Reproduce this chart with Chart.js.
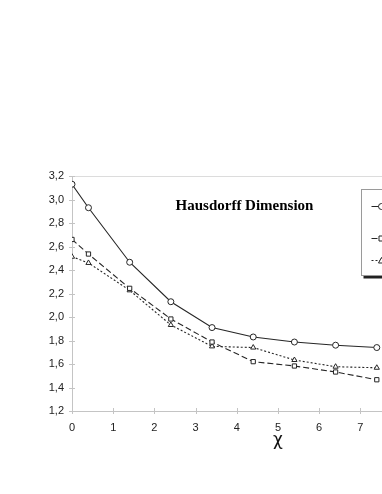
<!DOCTYPE html>
<html>
<head>
<meta charset="utf-8">
<script src="https://cdn.jsdelivr.net/npm/chart.js@4.4.1/dist/chart.umd.min.js"></script>
<style>
html,body{margin:0;padding:0;background:#fff;overflow:hidden;}
#wrap{position:absolute;left:0;top:0;width:500px;height:494px;}
</style>
</head>
<body>
<div id="wrap"><canvas id="c" width="500" height="494"></canvas></div>
<script>
// data
const chiValues = [0, 0.4, 1.4, 2.4, 3.4, 4.4, 5.4, 6.4, 7.4];
const seriesCircle = [3.13, 2.93, 2.466, 2.13, 1.91, 1.83, 1.787, 1.76, 1.74];
const seriesSquare = [2.66, 2.536, 2.244, 1.983, 1.787, 1.62, 1.583, 1.532, 1.466];
const seriesTriangle = [2.513, 2.46, 2.227, 1.932, 1.75, 1.74, 1.634, 1.577, 1.568];
const yTicks = [1.2, 1.4, 1.6, 1.8, 2.0, 2.2, 2.4, 2.6, 2.8, 3.0, 3.2];
const xTicks = [0, 1, 2, 3, 4, 5, 6, 7, 8, 9, 10];
const chartTitle = 'Hausdorff Dimension';
const xTitle = 'χ';
const seriesNames = ['', '', ''];

const toPts = (ys) => chiValues.map((x, i) => ({x: x, y: ys[i]}));
const ink = '#262626';
const axisCol = '#c4c4c4';

const mk = (label, ys, style, dash) => ({
  label: label, data: toPts(ys), borderColor: ink, borderWidth: 1.1,
  borderDash: dash, pointStyle: style, pointRadius: 3, pointBorderWidth: 1,
  pointBackgroundColor: '#fff', pointBorderColor: ink, tension: 0, fill: false
});

const decor = {
  id: 'decor',
  beforeDatasetsDraw(chart) {
    const {ctx, chartArea: a, scales: {x, y}} = chart;
    ctx.save();
    ctx.strokeStyle = '#dcdcdc'; ctx.lineWidth = 1;
    ctx.beginPath(); ctx.moveTo(a.left, Math.round(a.top) + 0.5); ctx.lineTo(a.right, Math.round(a.top) + 0.5); ctx.stroke();
    ctx.strokeStyle = axisCol;
    ctx.beginPath();
    yTicks.forEach(v => { const py = Math.round(y.getPixelForValue(v)) + 0.5; ctx.moveTo(a.left - 3, py); ctx.lineTo(a.left + 3, py); });
    xTicks.forEach(v => { const px = Math.round(x.getPixelForValue(v)) + 0.5; ctx.moveTo(px, a.bottom - 3); ctx.lineTo(px, a.bottom + 3); });
    ctx.stroke();
    ctx.restore();
  },
  afterDatasetsDraw(chart) {
    const {ctx, chartArea: a} = chart;
    ctx.save();
    ctx.fillStyle = '#000';
    ctx.font = 'bold 15px "Liberation Serif", "Times New Roman", serif';
    ctx.textAlign = 'center'; ctx.textBaseline = 'alphabetic';
    ctx.fillText(chartTitle, a.left + 172.5, a.top + 33.5);
    // legend box
    const lx = a.left + 289.5, ly = a.top + 13.5, lw = 110, lh = 86;
    ctx.fillStyle = '#fff';
    ctx.fillRect(lx, ly, lw, lh);
    ctx.fillStyle = '#222';
    ctx.fillRect(lx + 2, ly + lh, lw, 3);
    ctx.strokeStyle = '#9a9a9a'; ctx.lineWidth = 1;
    ctx.strokeRect(lx, ly, lw, lh);
    const rows = [16, 48, 70];
    chart.data.datasets.forEach((ds, i) => {
      const ry = Math.round(ly + rows[i]) + 0.5;
      ctx.strokeStyle = ink; ctx.lineWidth = 1;
      ctx.setLineDash(ds.borderDash || []);
      ctx.beginPath(); ctx.moveTo(lx + 10, ry); ctx.lineTo(lx + 24, ry); ctx.stroke();
      ctx.setLineDash([]);
      ctx.fillStyle = '#fff';
      const mx = lx + 20;
      ctx.beginPath();
      if (ds.pointStyle === 'circle') ctx.arc(mx, ry, 3, 0, Math.PI * 2);
      else if (ds.pointStyle === 'rect') ctx.rect(mx - 2.5, ry - 2.5, 5, 5);
      else { ctx.moveTo(mx, ry - 3); ctx.lineTo(mx + 3, ry + 2.5); ctx.lineTo(mx - 3, ry + 2.5); ctx.closePath(); }
      ctx.fill(); ctx.stroke();
      ctx.fillStyle = '#000';
      ctx.font = '12px "Liberation Serif", serif';
      ctx.textAlign = 'left'; ctx.textBaseline = 'middle';
      ctx.fillText(ds.label, lx + 30, ry);
    });
    ctx.restore();
  }
};

new Chart(document.getElementById('c'), {
  type: 'line',
  data: {
    datasets: [
      mk(seriesNames[0], seriesCircle, 'circle', []),
      mk(seriesNames[1], seriesSquare, 'rect', [6, 3]),
      mk(seriesNames[2], seriesTriangle, 'triangle', [2, 2])
    ]
  },
  options: {
    responsive: false, animation: false,
    layout: {padding: {top: 176, right: 15, bottom: 43, left: 0}},
    plugins: {legend: {display: false}, tooltip: {enabled: false}, title: {display: false}},
    scales: {
      x: {
        type: 'linear', min: 0, max: 10,
        afterBuildTicks: (s) => { s.ticks = xTicks.map(v => ({value: v})); },
        afterFit: (s) => { s.height = 40; },
        grid: {display: false, drawTicks: false},
        border: {display: true, color: axisCol, width: 1},
        ticks: {color: '#222', padding: 10, font: {family: '"Liberation Sans", Arial, sans-serif', size: 11}},
        title: {display: true, text: xTitle, color: '#111', padding: {top: 0, bottom: 0},
          font: {family: '"DejaVu Sans", "Liberation Sans", sans-serif', size: 17}}
      },
      y: {
        type: 'linear', min: 1.2, max: 3.2,
        afterBuildTicks: (s) => { s.ticks = yTicks.map(v => ({value: v})); },
        afterFit: (s) => { s.width = 72; },
        grid: {display: false, drawTicks: false},
        border: {display: true, color: axisCol, width: 1},
        ticks: {color: '#222', padding: 8, font: {family: '"Liberation Sans", Arial, sans-serif', size: 11},
          callback: (v) => Number(v).toFixed(1).replace('.', ',')}
      }
    }
  },
  plugins: [decor]
});
</script>
</body>
</html>
